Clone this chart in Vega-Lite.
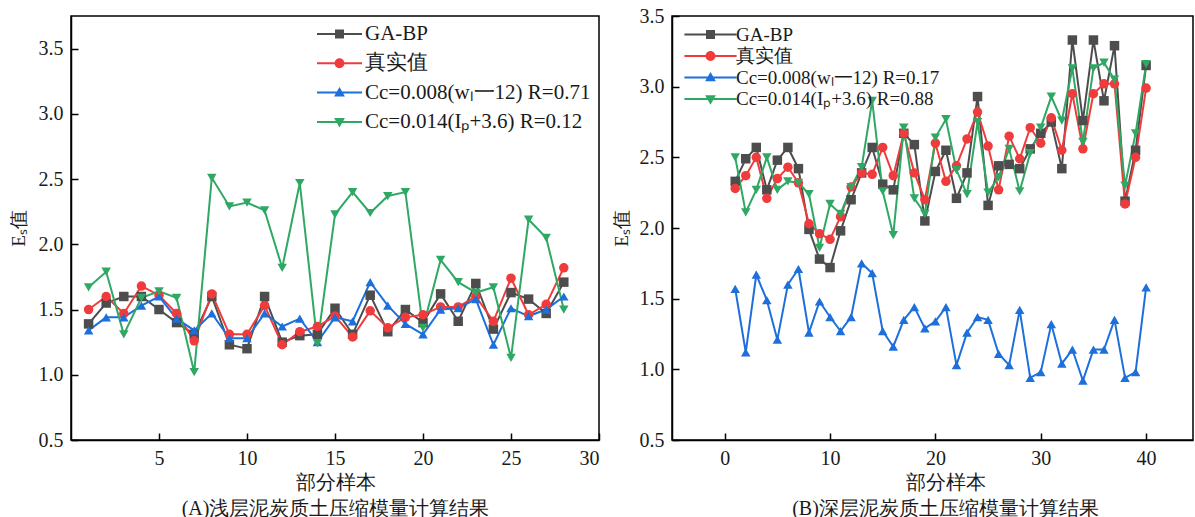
{
"$schema": "https://vega.github.io/schema/vega-lite/v6.json",
"background": "white",
"padding": {"left": 8, "top": 5, "right": 0, "bottom": 0},
"bounds": "flush",
"spacing": 73,
"config": {
  "font": "Liberation Serif",
  "view": {"stroke": "#000", "strokeWidth": 1.5},
  "axis": {"domainColor": "#000", "domainWidth": 1.5, "tickColor": "#000", "tickWidth": 1.5, "tickSize": -7, "labelPadding": 15, "labelFontSize": 20, "labelColor": "#1a1a1a", "labelFont": "Liberation Serif", "titleFont": "Liberation Serif", "titleFontSize": 20, "titleFontWeight": "normal", "titleColor": "#1a1a1a", "grid": false}
},
"resolve": {"scale": {"color": "independent", "shape": "independent", "x": "independent", "y": "independent"}, "legend": {"color": "independent", "shape": "independent"}},
"datasets": {
"A": [
{"x":1,"s":"GA-BP","y":1.39},{"x":2,"s":"GA-BP","y":1.55},{"x":3,"s":"GA-BP","y":1.60},{"x":4,"s":"GA-BP","y":1.60},{"x":5,"s":"GA-BP","y":1.50},{"x":6,"s":"GA-BP","y":1.40},{"x":7,"s":"GA-BP","y":1.31},{"x":8,"s":"GA-BP","y":1.60},{"x":9,"s":"GA-BP","y":1.23},{"x":10,"s":"GA-BP","y":1.20},{"x":11,"s":"GA-BP","y":1.60},{"x":12,"s":"GA-BP","y":1.25},{"x":13,"s":"GA-BP","y":1.30},{"x":14,"s":"GA-BP","y":1.31},{"x":15,"s":"GA-BP","y":1.51},{"x":16,"s":"GA-BP","y":1.31},{"x":17,"s":"GA-BP","y":1.61},{"x":18,"s":"GA-BP","y":1.33},{"x":19,"s":"GA-BP","y":1.50},{"x":20,"s":"GA-BP","y":1.40},{"x":21,"s":"GA-BP","y":1.62},{"x":22,"s":"GA-BP","y":1.41},{"x":23,"s":"GA-BP","y":1.70},{"x":24,"s":"GA-BP","y":1.35},{"x":25,"s":"GA-BP","y":1.63},{"x":26,"s":"GA-BP","y":1.58},{"x":27,"s":"GA-BP","y":1.47},{"x":28,"s":"GA-BP","y":1.71},
{"x":1,"s":"真实值","y":1.50},{"x":2,"s":"真实值","y":1.60},{"x":3,"s":"真实值","y":1.47},{"x":4,"s":"真实值","y":1.68},{"x":5,"s":"真实值","y":1.61},{"x":6,"s":"真实值","y":1.47},{"x":7,"s":"真实值","y":1.26},{"x":8,"s":"真实值","y":1.62},{"x":9,"s":"真实值","y":1.31},{"x":10,"s":"真实值","y":1.31},{"x":11,"s":"真实值","y":1.53},{"x":12,"s":"真实值","y":1.23},{"x":13,"s":"真实值","y":1.33},{"x":14,"s":"真实值","y":1.37},{"x":15,"s":"真实值","y":1.45},{"x":16,"s":"真实值","y":1.29},{"x":17,"s":"真实值","y":1.49},{"x":18,"s":"真实值","y":1.36},{"x":19,"s":"真实值","y":1.44},{"x":20,"s":"真实值","y":1.46},{"x":21,"s":"真实值","y":1.52},{"x":22,"s":"真实值","y":1.52},{"x":23,"s":"真实值","y":1.60},{"x":24,"s":"真实值","y":1.41},{"x":25,"s":"真实值","y":1.74},{"x":26,"s":"真实值","y":1.46},{"x":27,"s":"真实值","y":1.54},{"x":28,"s":"真实值","y":1.82},
{"x":1,"s":"wl","y":1.34},{"x":2,"s":"wl","y":1.44},{"x":3,"s":"wl","y":1.44},{"x":4,"s":"wl","y":1.53},{"x":5,"s":"wl","y":1.60},{"x":6,"s":"wl","y":1.43},{"x":7,"s":"wl","y":1.34},{"x":8,"s":"wl","y":1.47},{"x":9,"s":"wl","y":1.28},{"x":10,"s":"wl","y":1.28},{"x":11,"s":"wl","y":1.47},{"x":12,"s":"wl","y":1.37},{"x":13,"s":"wl","y":1.43},{"x":14,"s":"wl","y":1.25},{"x":15,"s":"wl","y":1.44},{"x":16,"s":"wl","y":1.41},{"x":17,"s":"wl","y":1.71},{"x":18,"s":"wl","y":1.53},{"x":19,"s":"wl","y":1.39},{"x":20,"s":"wl","y":1.31},{"x":21,"s":"wl","y":1.50},{"x":22,"s":"wl","y":1.51},{"x":23,"s":"wl","y":1.58},{"x":24,"s":"wl","y":1.23},{"x":25,"s":"wl","y":1.51},{"x":26,"s":"wl","y":1.45},{"x":27,"s":"wl","y":1.50},{"x":28,"s":"wl","y":1.60},
{"x":1,"s":"Ip","y":1.67},{"x":2,"s":"Ip","y":1.79},{"x":3,"s":"Ip","y":1.31},{"x":4,"s":"Ip","y":1.59},{"x":5,"s":"Ip","y":1.64},{"x":6,"s":"Ip","y":1.59},{"x":7,"s":"Ip","y":1.02},{"x":8,"s":"Ip","y":2.51},{"x":9,"s":"Ip","y":2.29},{"x":10,"s":"Ip","y":2.32},{"x":11,"s":"Ip","y":2.26},{"x":12,"s":"Ip","y":1.82},{"x":13,"s":"Ip","y":2.47},{"x":14,"s":"Ip","y":1.24},{"x":15,"s":"Ip","y":2.23},{"x":16,"s":"Ip","y":2.40},{"x":17,"s":"Ip","y":2.24},{"x":18,"s":"Ip","y":2.37},{"x":19,"s":"Ip","y":2.40},{"x":20,"s":"Ip","y":1.36},{"x":21,"s":"Ip","y":1.88},{"x":22,"s":"Ip","y":1.71},{"x":23,"s":"Ip","y":1.63},{"x":24,"s":"Ip","y":1.67},{"x":25,"s":"Ip","y":1.13},{"x":26,"s":"Ip","y":2.19},{"x":27,"s":"Ip","y":2.05},{"x":28,"s":"Ip","y":1.50}
],
"B": [
{"x":1,"s":"GA-BP","y":2.33},{"x":2,"s":"GA-BP","y":2.49},{"x":3,"s":"GA-BP","y":2.57},{"x":4,"s":"GA-BP","y":2.27},{"x":5,"s":"GA-BP","y":2.48},{"x":6,"s":"GA-BP","y":2.57},{"x":7,"s":"GA-BP","y":2.42},{"x":8,"s":"GA-BP","y":1.99},{"x":9,"s":"GA-BP","y":1.78},{"x":10,"s":"GA-BP","y":1.72},{"x":11,"s":"GA-BP","y":1.98},{"x":12,"s":"GA-BP","y":2.20},{"x":13,"s":"GA-BP","y":2.39},{"x":14,"s":"GA-BP","y":2.57},{"x":15,"s":"GA-BP","y":2.31},{"x":16,"s":"GA-BP","y":2.27},{"x":17,"s":"GA-BP","y":2.67},{"x":18,"s":"GA-BP","y":2.59},{"x":19,"s":"GA-BP","y":2.05},{"x":20,"s":"GA-BP","y":2.40},{"x":21,"s":"GA-BP","y":2.55},{"x":22,"s":"GA-BP","y":2.21},{"x":23,"s":"GA-BP","y":2.39},{"x":24,"s":"GA-BP","y":2.93},{"x":25,"s":"GA-BP","y":2.16},{"x":26,"s":"GA-BP","y":2.44},{"x":27,"s":"GA-BP","y":2.45},{"x":28,"s":"GA-BP","y":2.42},{"x":29,"s":"GA-BP","y":2.56},{"x":30,"s":"GA-BP","y":2.67},{"x":31,"s":"GA-BP","y":2.75},{"x":32,"s":"GA-BP","y":2.42},{"x":33,"s":"GA-BP","y":3.33},{"x":34,"s":"GA-BP","y":2.76},{"x":35,"s":"GA-BP","y":3.33},{"x":36,"s":"GA-BP","y":2.90},{"x":37,"s":"GA-BP","y":3.29},{"x":38,"s":"GA-BP","y":2.19},{"x":39,"s":"GA-BP","y":2.55},{"x":40,"s":"GA-BP","y":3.15},
{"x":1,"s":"真实值","y":2.28},{"x":2,"s":"真实值","y":2.37},{"x":3,"s":"真实值","y":2.50},{"x":4,"s":"真实值","y":2.21},{"x":5,"s":"真实值","y":2.35},{"x":6,"s":"真实值","y":2.43},{"x":7,"s":"真实值","y":2.32},{"x":8,"s":"真实值","y":2.03},{"x":9,"s":"真实值","y":1.96},{"x":10,"s":"真实值","y":1.92},{"x":11,"s":"真实值","y":2.08},{"x":12,"s":"真实值","y":2.29},{"x":13,"s":"真实值","y":2.39},{"x":14,"s":"真实值","y":2.38},{"x":15,"s":"真实值","y":2.57},{"x":16,"s":"真实值","y":2.37},{"x":17,"s":"真实值","y":2.67},{"x":18,"s":"真实值","y":2.39},{"x":19,"s":"真实值","y":2.20},{"x":20,"s":"真实值","y":2.60},{"x":21,"s":"真实值","y":2.33},{"x":22,"s":"真实值","y":2.44},{"x":23,"s":"真实值","y":2.63},{"x":24,"s":"真实值","y":2.82},{"x":25,"s":"真实值","y":2.58},{"x":26,"s":"真实值","y":2.27},{"x":27,"s":"真实值","y":2.65},{"x":28,"s":"真实值","y":2.49},{"x":29,"s":"真实值","y":2.71},{"x":30,"s":"真实值","y":2.60},{"x":31,"s":"真实值","y":2.78},{"x":32,"s":"真实值","y":2.55},{"x":33,"s":"真实值","y":2.95},{"x":34,"s":"真实值","y":2.56},{"x":35,"s":"真实值","y":2.95},{"x":36,"s":"真实值","y":3.02},{"x":37,"s":"真实值","y":3.02},{"x":38,"s":"真实值","y":2.17},{"x":39,"s":"真实值","y":2.50},{"x":40,"s":"真实值","y":2.99},
{"x":1,"s":"wl","y":1.57},{"x":2,"s":"wl","y":1.12},{"x":3,"s":"wl","y":1.67},{"x":4,"s":"wl","y":1.49},{"x":5,"s":"wl","y":1.21},{"x":6,"s":"wl","y":1.60},{"x":7,"s":"wl","y":1.71},{"x":8,"s":"wl","y":1.26},{"x":9,"s":"wl","y":1.48},{"x":10,"s":"wl","y":1.37},{"x":11,"s":"wl","y":1.27},{"x":12,"s":"wl","y":1.37},{"x":13,"s":"wl","y":1.75},{"x":14,"s":"wl","y":1.68},{"x":15,"s":"wl","y":1.27},{"x":16,"s":"wl","y":1.16},{"x":17,"s":"wl","y":1.35},{"x":18,"s":"wl","y":1.44},{"x":19,"s":"wl","y":1.29},{"x":20,"s":"wl","y":1.34},{"x":21,"s":"wl","y":1.44},{"x":22,"s":"wl","y":1.03},{"x":23,"s":"wl","y":1.26},{"x":24,"s":"wl","y":1.37},{"x":25,"s":"wl","y":1.35},{"x":26,"s":"wl","y":1.11},{"x":27,"s":"wl","y":1.03},{"x":28,"s":"wl","y":1.42},{"x":29,"s":"wl","y":0.94},{"x":30,"s":"wl","y":0.98},{"x":31,"s":"wl","y":1.32},{"x":32,"s":"wl","y":1.04},{"x":33,"s":"wl","y":1.14},{"x":34,"s":"wl","y":0.92},{"x":35,"s":"wl","y":1.14},{"x":36,"s":"wl","y":1.14},{"x":37,"s":"wl","y":1.35},{"x":38,"s":"wl","y":0.94},{"x":39,"s":"wl","y":0.98},{"x":40,"s":"wl","y":1.58},
{"x":1,"s":"Ip","y":2.50},{"x":2,"s":"Ip","y":2.11},{"x":3,"s":"Ip","y":2.27},{"x":4,"s":"Ip","y":2.50},{"x":5,"s":"Ip","y":2.27},{"x":6,"s":"Ip","y":2.33},{"x":7,"s":"Ip","y":2.32},{"x":8,"s":"Ip","y":2.24},{"x":9,"s":"Ip","y":1.86},{"x":10,"s":"Ip","y":2.17},{"x":11,"s":"Ip","y":2.10},{"x":12,"s":"Ip","y":2.29},{"x":13,"s":"Ip","y":2.43},{"x":14,"s":"Ip","y":2.90},{"x":15,"s":"Ip","y":2.26},{"x":16,"s":"Ip","y":1.95},{"x":17,"s":"Ip","y":2.71},{"x":18,"s":"Ip","y":2.21},{"x":19,"s":"Ip","y":2.10},{"x":20,"s":"Ip","y":2.64},{"x":21,"s":"Ip","y":2.77},{"x":22,"s":"Ip","y":2.41},{"x":23,"s":"Ip","y":2.24},{"x":24,"s":"Ip","y":2.75},{"x":25,"s":"Ip","y":2.25},{"x":26,"s":"Ip","y":2.36},{"x":27,"s":"Ip","y":2.56},{"x":28,"s":"Ip","y":2.26},{"x":29,"s":"Ip","y":2.53},{"x":30,"s":"Ip","y":2.71},{"x":31,"s":"Ip","y":2.93},{"x":32,"s":"Ip","y":2.76},{"x":33,"s":"Ip","y":3.13},{"x":34,"s":"Ip","y":2.61},{"x":35,"s":"Ip","y":3.13},{"x":36,"s":"Ip","y":3.17},{"x":37,"s":"Ip","y":3.05},{"x":38,"s":"Ip","y":2.30},{"x":39,"s":"Ip","y":2.67},{"x":40,"s":"Ip","y":3.16}
]
},
"hconcat": [
{
  "width": 528, "height": 424,
  "data": {"name": "A"},
  "encoding": {
    "x": {"field": "x", "type": "quantitative", "scale": {"domain": [0, 30], "nice": false, "zero": false},
      "axis": {"values": [5, 10, 15, 20, 25, 30], "format": "d", "title": ["部分样本", "(A)浅层泥炭质土压缩模量计算结果"], "titleLineHeight": 26, "titlePadding": 4}},
    "y": {"field": "y", "type": "quantitative", "scale": {"domain": [0.5, 3.75], "nice": false, "zero": false},
      "axis": {"values": [0.5, 1, 1.5, 2, 2.5, 3, 3.5], "format": ".1f", "title": "Eₛ值", "titleFontSize": 19, "titlePadding": 10}},
    "color": {"field": "s", "type": "nominal",
      "scale": {"domain": ["GA-BP", "真实值", "wl", "Ip"], "range": ["#4d4d4d", "#ef3b3c", "#1d6fdb", "#2fa864"]},
      "legend": {"orient": "none", "legendX": 258, "legendY": 7.5, "title": null, "padding": 0,
        "symbolSize": 81, "symbolStrokeWidth": 0, "symbolOpacity": 1, "labelFontSize": 21, "labelFont": "Liberation Serif", "labelColor": "#1a1a1a",
        "labelOffset": 15, "rowPadding": 7.3, "labelLimit": 400,
        "labelExpr": "datum.value == 'wl' ? 'Cc=0.008(wₗ一12) R=0.71' : datum.value == 'Ip' ? 'Cc=0.014(Iₚ+3.6) R=0.12' : datum.value"}}
  },
  "layer": [
    {"mark": {"type": "line", "strokeWidth": 2}},
    {"transform": [{"filter": "datum.x < 0"}],
     "mark": {"type": "point", "filled": true, "opacity": 1},
     "encoding": {"shape": {"field": "s", "type": "nominal", "legend": null, "scale": {"domain": ["GA-BP", "真实值", "wl", "Ip"],
       "range": ["M-5,-0.22H5V0.22H-5ZM-1,-1H1V1H-1Z", "M-5,-0.22H5V0.22H-5ZM1.1,0A1.1,1.1,0,1,1,-1.1,0A1.1,1.1,0,1,1,1.1,0Z", "M-5,-0.22H5V0.22H-5ZM0,-1.25L1.2,0.85L-1.2,0.85Z", "M-5,-0.22H5V0.22H-5ZM0,1.25L-1.2,-0.85L1.2,-0.85Z"]}}}},
    {"transform": [{"filter": "datum.s == 'GA-BP'"}], "mark": {"type": "point", "filled": true, "size": 90, "opacity": 1, "shape": "square"}},
    {"transform": [{"filter": "datum.s == '真实值'"}], "mark": {"type": "point", "filled": true, "size": 90, "opacity": 1, "shape": "circle"}},
    {"transform": [{"filter": "datum.s == 'wl'"}], "mark": {"type": "point", "filled": true, "size": 90, "opacity": 1, "shape": "triangle-up"}},
    {"transform": [{"filter": "datum.s == 'Ip'"}], "mark": {"type": "point", "filled": true, "size": 90, "opacity": 1, "shape": "triangle-down"}}
  ]
},
{
  "width": 521, "height": 424,
  "data": {"name": "B"},
  "encoding": {
    "x": {"field": "x", "type": "quantitative", "scale": {"domain": [-5, 44.45], "nice": false, "zero": false},
      "axis": {"values": [0, 10, 20, 30, 40], "format": "d", "title": ["部分样本", "(B)深层泥炭质土压缩模量计算结果"], "titleLineHeight": 26, "titlePadding": 4, "titleX": 273}},
    "y": {"field": "y", "type": "quantitative", "scale": {"domain": [0.5, 3.5], "nice": false, "zero": false},
      "axis": {"values": [0.5, 1, 1.5, 2, 2.5, 3, 3.5], "format": ".1f", "title": "Eₛ值", "titleFontSize": 19, "titlePadding": 8}},
    "color": {"field": "s", "type": "nominal",
      "scale": {"domain": ["GA-BP", "真实值", "wl", "Ip"], "range": ["#4d4d4d", "#ef3b3c", "#1d6fdb", "#2fa864"]},
      "legend": {"orient": "none", "legendX": 29, "legendY": 9, "title": null, "padding": 0,
        "symbolSize": 81, "symbolStrokeWidth": 0, "symbolOpacity": 1, "labelFontSize": 19, "labelFont": "Liberation Serif", "labelColor": "#1a1a1a",
        "labelOffset": 16, "rowPadding": 1.5, "labelLimit": 400,
        "labelExpr": "datum.value == 'wl' ? 'Cc=0.008(wₗ一12) R=0.17' : datum.value == 'Ip' ? 'Cc=0.014(Iₚ+3.6) R=0.88' : datum.value"}}
  },
  "layer": [
    {"mark": {"type": "line", "strokeWidth": 2}},
    {"transform": [{"filter": "datum.x < 0"}],
     "mark": {"type": "point", "filled": true, "opacity": 1},
     "encoding": {"shape": {"field": "s", "type": "nominal", "legend": null, "scale": {"domain": ["GA-BP", "真实值", "wl", "Ip"],
       "range": ["M-5.8,-0.22H5.8V0.22H-5.8ZM-1,-1H1V1H-1Z", "M-5.8,-0.22H5.8V0.22H-5.8ZM1.1,0A1.1,1.1,0,1,1,-1.1,0A1.1,1.1,0,1,1,1.1,0Z", "M-5.8,-0.22H5.8V0.22H-5.8ZM0,-1.25L1.2,0.85L-1.2,0.85Z", "M-5.8,-0.22H5.8V0.22H-5.8ZM0,1.25L-1.2,-0.85L1.2,-0.85Z"]}}}},
    {"transform": [{"filter": "datum.s == 'GA-BP'"}], "mark": {"type": "point", "filled": true, "size": 90, "opacity": 1, "shape": "square"}},
    {"transform": [{"filter": "datum.s == '真实值'"}], "mark": {"type": "point", "filled": true, "size": 90, "opacity": 1, "shape": "circle"}},
    {"transform": [{"filter": "datum.s == 'wl'"}], "mark": {"type": "point", "filled": true, "size": 90, "opacity": 1, "shape": "triangle-up"}},
    {"transform": [{"filter": "datum.s == 'Ip'"}], "mark": {"type": "point", "filled": true, "size": 90, "opacity": 1, "shape": "triangle-down"}}
  ]
}
]
}
